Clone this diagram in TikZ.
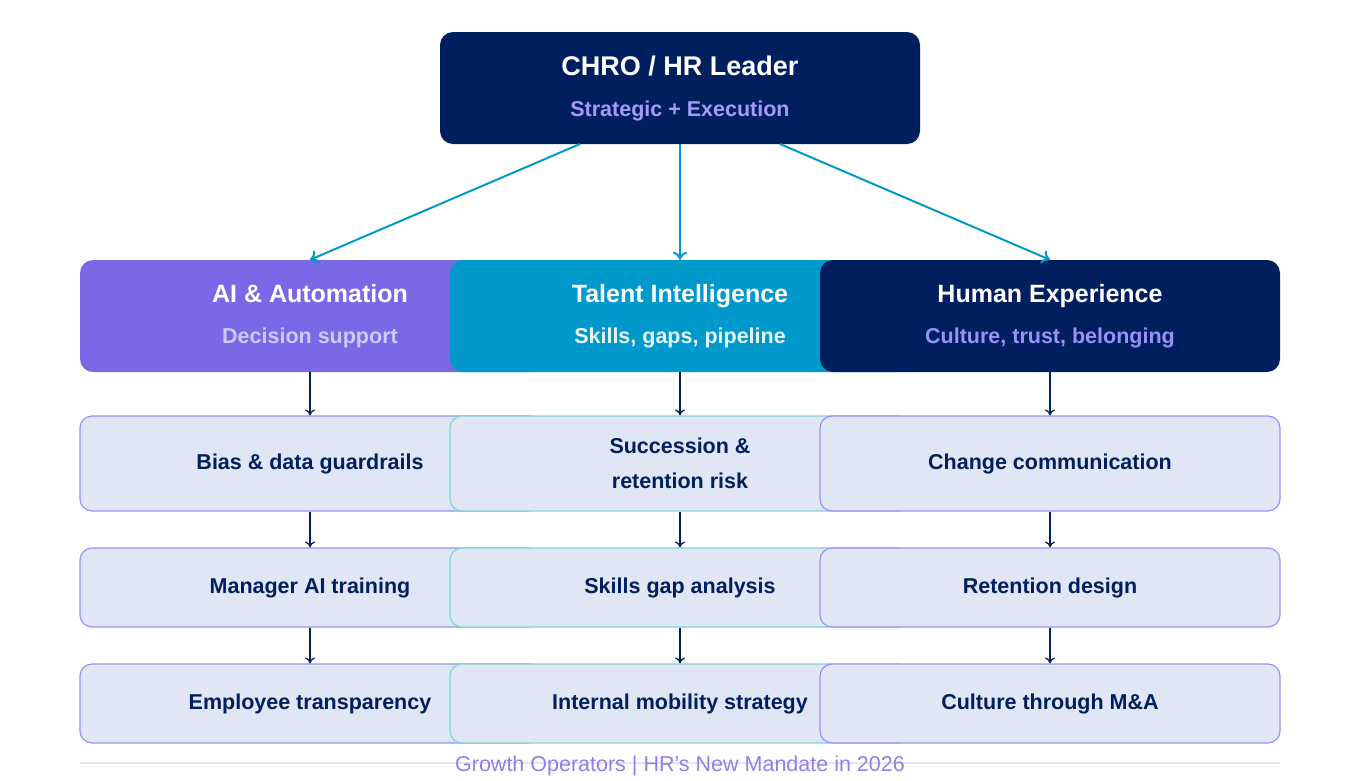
\documentclass[tikz,border=0pt]{standalone}
\usepackage{fontspec}
\setmainfont{Liberation Sans}
\usetikzlibrary{arrows.meta}
\definecolor{navy}{HTML}{001F5F}
\definecolor{violet}{HTML}{7B68E6}
\definecolor{teal}{HTML}{0099CC}
\definecolor{lilac}{HTML}{9A90F8}
\definecolor{pale}{HTML}{E1E6F4}
\definecolor{mint}{HTML}{7FD4D4}
\definecolor{subblue}{HTML}{C8CCFF}
\tikzset{
  head/.style={rectangle, rounded corners=13pt, minimum width=460pt, minimum height=112pt,
    align=center, text=white, font=\bfseries\fontsize{25}{30}\selectfont},
  item/.style={rectangle, rounded corners=12pt, draw=lilac, line width=1.2pt, fill=pale,
    minimum width=460pt, align=center, text=navy, font=\bfseries\fontsize{21.5}{36}\selectfont},
  down/.style={-{To[length=6pt,width=10pt]}, navy, line width=1.3pt},
  link/.style={-{To[length=8pt,width=14pt]}, teal, line width=2pt}
}
\begin{document}
\begin{tikzpicture}[x=1pt,y=-1pt]
\useasboundingbox (0,0) rectangle (1360,780);
% top node
\node[head, fill=navy, minimum width=480pt, minimum height=112pt] (chro) at (680,88)
  {\fontsize{27}{30}\selectfont CHRO / HR Leader\\[11pt]{\fontsize{21.5}{24}\selectfont\color{lilac!90!white}Strategic + Execution}};
% column heads
\node[head, fill=violet] (ai) at (310,316)
  {AI \& Automation\\[11pt]{\fontsize{21.5}{24}\selectfont\color{subblue}Decision support}};
\node[head, fill=teal] (ti) at (680,316)
  {Talent Intelligence\\[11pt]{\fontsize{21.5}{24}\selectfont\color{white!90!teal}Skills, gaps, pipeline}};
\node[head, fill=navy] (hx) at (1050,316)
  {Human Experience\\[11pt]{\fontsize{21.5}{24}\selectfont\color{lilac}Culture, trust, belonging}};
% rows
\foreach \c/\x/\bc/\ta/\tb/\tc in {
  ai/310/lilac/Bias \& data guardrails/Manager AI training/Employee transparency,
  ti/680/mint/{Succession \&\\[-1pt]retention risk}/Skills gap analysis/Internal mobility strategy,
  hx/1050/lilac/Change communication/Retention design/Culture through M\&A}{
  \node[item, draw=\bc, minimum height=95pt] (\c1) at (\x,463.5) {\ta};
  \node[item, draw=\bc, minimum height=79pt] (\c2) at (\x,587.5) {\tb};
  \node[item, draw=\bc, minimum height=79pt] (\c3) at (\x,703.5) {\tc};
}
% links
\draw[link] (580,144) -- (ai.north);
\draw[link] (chro.south) -- (ti.north);
\draw[link] (780,144) -- (hx.north);
\foreach \c in {ai,ti,hx}{
  \draw[down] (\c.south) -- (\c1.north);
  \draw[down] (\c1.south) -- (\c2.north);
  \draw[down] (\c2.south) -- (\c3.north);
}
% footer
\draw[pale, line width=2.5pt] (80,763) -- (1280,763);
\node[text=violet!85!white, font=\fontsize{21.5}{24}\selectfont] (foot) at (680,766) {Growth Operators | HR's New Mandate in 2026};
\end{tikzpicture}
\end{document}
